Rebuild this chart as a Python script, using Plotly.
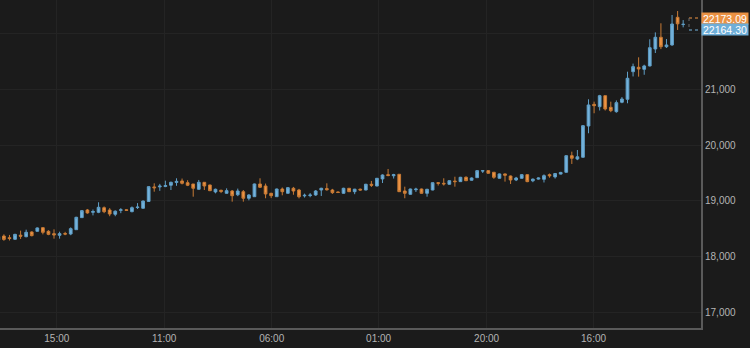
import plotly.graph_objects as go

# OHLC values per candle (index 0..123)
opens = [18300,18370,18340,18312,18385,18358,18443,18455,18520,18455,18412,18383,18415,18407,18484,18700,18837,18795,18795,18878,
         18837,18760,18830,18840,18807,18880,18868,18990,19250,19250,19258,19280,19330,19357,19326,19303,19208,19333,19285,19160,
         19190,19136,19177,19110,19165,19047,19075,19303,19267,19136,19075,19213,19136,19226,19195,19090,19095,19106,19195,19220,
         19195,19160,19136,19226,19165,19210,19195,19298,19267,19393,19470,19450,19477,19177,19118,19200,19213,19136,19195,19326,
         19315,19298,19355,19345,19423,19370,19416,19535,19542,19513,19405,19483,19446,19375,19405,19470,19360,19390,19387,19470,
         19430,19480,19513,19810,19750,19782,20342,20730,20688,20885,20677,20599,20767,20821,21315,21394,21358,21418,21722,21932,
         21763,21794,22290,22160]
highs = [18380,18400,18390,18410,18467,18484,18455,18525,18530,18475,18490,18448,18445,18525,18715,18835,18855,18845,18975,18900,
         18870,18830,18870,18850,18900,18960,19005,19260,19315,19305,19362,19345,19405,19400,19370,19303,19375,19333,19290,19220,
         19200,19225,19195,19220,19195,19120,19310,19405,19310,19145,19220,19240,19245,19250,19215,19130,19140,19195,19235,19315,
         19215,19170,19235,19230,19215,19220,19305,19357,19410,19475,19572,19485,19480,19255,19220,19235,19220,19215,19330,19335,
         19405,19365,19433,19430,19440,19420,19550,19550,19550,19515,19490,19490,19455,19430,19475,19475,19400,19420,19475,19490,
         19500,19520,19815,19882,19912,20355,20821,20778,20900,20885,20778,20800,20860,21315,21460,21573,21440,21896,22020,22183,
         21900,22331,22403,22240]
lows = [18280,18285,18290,18300,18318,18348,18365,18450,18400,18385,18323,18323,18385,18385,18480,18695,18770,18740,18780,18780,
        18725,18725,18780,18820,18795,18855,18860,18985,19165,19180,19245,19195,19270,19295,19265,19075,19195,19195,19175,19135,
        19140,19130,18986,19085,18986,19010,19070,19235,19047,19050,19070,19100,19130,19110,19045,19060,19065,19090,19088,19185,
        19125,19140,19130,19160,19120,19185,19190,19250,19260,19320,19440,19400,19160,19047,19110,19160,19130,19075,19190,19275,
        19275,19290,19255,19340,19355,19365,19410,19500,19490,19395,19400,19345,19303,19355,19400,19335,19335,19380,19330,19415,
        19400,19475,19505,19662,19730,19775,20212,20570,20620,20620,20590,20580,20750,20749,21230,21226,21260,21410,21650,21720,
        21740,21780,22063,22110]
closes = [18360,18310,18325,18400,18368,18437,18377,18515,18437,18400,18390,18412,18405,18502,18706,18825,18784,18810,18885,18807,
          18765,18815,18840,18830,18878,18888,18998,19255,19235,19265,19275,19333,19350,19315,19280,19226,19333,19267,19183,19208,
          19170,19183,19093,19177,19047,19106,19303,19244,19124,19093,19213,19165,19237,19177,19075,19100,19105,19177,19226,19200,
          19148,19150,19226,19165,19210,19195,19298,19280,19405,19464,19455,19470,19165,19136,19213,19210,19136,19208,19326,19315,
          19305,19362,19345,19423,19362,19410,19542,19540,19495,19423,19483,19460,19375,19410,19470,19345,19390,19410,19452,19450,
          19490,19510,19810,19764,19790,20348,20719,20706,20885,20647,20617,20760,20826,21197,21406,21364,21418,21745,21932,21763,
          21794,22170,22173.09,22164.30]

tick_pos = [10.5, 29.8, 49.1, 68.3, 87.7, 106.9]
tick_text = ["15:00", "11:00", "06:00", "01:00", "20:00", "16:00"]
y_ticks = [17000, 18000, 19000, 20000, 21000, 22000]
# 22,000 sits underneath the last-price labels in the reference, so its text is hidden
y_tick_text = ["17,000", "18,000", "19,000", "20,000", "21,000", ""]
last_labels = ["22173.09", "22164.30"]

BG = "#1b1b1b"
BLUE_FILL, BLUE_LINE = "#75b3dc", "#5f9ec6"
ORANGE_FILL, ORANGE_LINE = "#ee9444", "#c77a35"

x = list(range(len(opens)))

fig = go.Figure(go.Candlestick(
    x=x, open=opens, high=highs, low=lows, close=closes,
    increasing=dict(fillcolor=BLUE_FILL, line=dict(color=BLUE_LINE, width=1)),
    decreasing=dict(fillcolor=ORANGE_FILL, line=dict(color=ORANGE_LINE, width=1)),
    whiskerwidth=0, showlegend=False, hoverinfo="skip",
))

fig.update_layout(
    width=750, height=348,
    margin=dict(l=0, r=49, t=0, b=20),
    paper_bgcolor=BG, plot_bgcolor=BG,
    font=dict(family="Liberation Sans, Arial, sans-serif", size=10, color="#b4b4b4"),
    boxgap=0.3,
    xaxis=dict(
        range=[0.3, 126.2], rangeslider=dict(visible=False),
        tickmode="array", tickvals=tick_pos, ticktext=tick_text,
        showgrid=True, gridcolor="#242424", gridwidth=1,
        showline=True, linecolor="#5a5a5a", linewidth=2,
        ticks="", zeroline=False,
    ),
    yaxis=dict(
        side="right", range=[16722, 22600],
        tickmode="array", tickvals=y_ticks, ticktext=y_tick_text,
        showgrid=True, gridcolor="#242424", gridwidth=1,
        showline=True, linecolor="#5a5a5a", linewidth=2,
        ticks="", zeroline=False,
    ),
)

# dashed bracket connecting last price to its labels
py = lambda px: 1 - px / 328.0
pxr = lambda px: px / 701.0
fig.add_shape(type="line", xref="paper", yref="paper", x0=pxr(689), x1=pxr(700), y0=py(18), y1=py(18),
              line=dict(color=ORANGE_FILL, width=1, dash="3px,3px"))
fig.add_shape(type="line", xref="paper", yref="paper", x0=pxr(689), x1=pxr(689), y0=py(18), y1=py(30),
              line=dict(color="#6b6b6b", width=1, dash="3px,3px"))
fig.add_shape(type="line", xref="paper", yref="paper", x0=pxr(689), x1=pxr(700), y0=py(30), y1=py(30),
              line=dict(color=BLUE_FILL, width=1, dash="3px,3px"))

for txt, yc, col in [(last_labels[0], 18, "#ea9143"), (last_labels[1], 30, "#6eaed8")]:
    fig.add_annotation(xref="paper", yref="paper", x=1.0, y=py(yc), xanchor="left", yanchor="middle",
                       text=txt, showarrow=False, bgcolor=col, width=46, height=11, borderpad=0,
                       font=dict(color="#ffffff", size=10.5, family="Liberation Sans, Arial, sans-serif"))

fig.write_html("out.html")
